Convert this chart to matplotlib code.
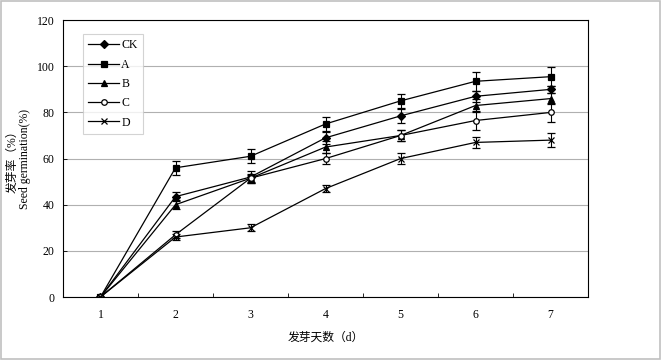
import matplotlib.pyplot as plt
import numpy as np

plt.rcParams['font.family'] = ['Liberation Serif', 'Noto Sans CJK SC']

days = [1, 2, 3, 4, 5, 6, 7]
ck = [0, 43.5, 52, 69, 78.5, 87, 90]
a = [0, 56, 61, 75, 85, 93.5, 95.5]
b = [0, 40, 51.5, 65, 70, 83, 86]
c = [0, 27, 51.5, 60, 70, 76.5, 80]
d = [0, 26, 30, 47, 60, 67, 68]

ck_err = [0, 2, 2.5, 2.5, 3, 2.5, 1.5]
a_err = [0, 3, 3, 3, 3, 4, 4]
b_err = [0, 2, 2, 2.5, 2.5, 3, 2.5]
c_err = [0, 1.5, 1.5, 2.5, 2.5, 4, 4]
d_err = [0, 1.5, 1.5, 1.5, 2.5, 2.5, 3]

fig = plt.figure(figsize=(6.61, 3.6), dpi=100)
ax = fig.add_axes([0.0953, 0.175, 0.7943, 0.769])

series = [
    ("CK", ck, ck_err, "D", "k", 3.8),
    ("A", a, a_err, "s", "k", 4.5),
    ("B", b, b_err, "^", "k", 4.5),
    ("C", c, c_err, "o", "white", 4),
    ("D", d, d_err, "x", "k", 5),
]
handles = []
for name, vals, err, mk, fc, ms in series:
    eb = ax.errorbar(days, vals, yerr=err, label=name, color="k", linewidth=0.9,
                     marker=mk, markersize=ms, markerfacecolor=fc,
                     markeredgecolor="k", markeredgewidth=0.9,
                     ecolor="k", elinewidth=0.8, capsize=3, capthick=0.8)
    handles.append(eb[0])

ax.set_xlim(0.5, 7.5)
ax.set_ylim(0, 120)
ax.set_yticks(np.arange(0, 121, 20))
ax.set_xticks(days)
ax.set_xticks(np.arange(1.5, 7.5, 1), minor=True)
ax.tick_params(axis="x", which="major", length=0, labelsize=8.5, pad=9)
ax.tick_params(axis="x", which="minor", direction="in", length=3, width=0.6)
ax.tick_params(axis="y", direction="in", length=3, width=0.6, labelsize=8.5, pad=6)
ax.yaxis.grid(True, color="#b0b0b0", linewidth=0.8)
ax.set_axisbelow(True)
for s in ax.spines.values():
    s.set_linewidth(0.8)

ax.set_xlabel("发芽天数（d）", fontsize=8.5, labelpad=7)
ax.set_ylabel("发芽率（%）\nSeed germination(%)", fontsize=8.5, labelpad=4,
              linespacing=1.05)

leg = ax.legend(handles=handles, labels=[s[0] for s in series],
                loc="upper left", bbox_to_anchor=(0.038, 0.95), fontsize=8.5,
                frameon=True, fancybox=False, edgecolor="#c8c8c8",
                handlelength=2.6, handletextpad=0.2, labelspacing=0.62,
                borderpad=0.45, borderaxespad=0)
leg.get_frame().set_linewidth(0.8)

fig.patches.append(plt.Rectangle((0.002, 0.003), 0.996, 0.994,
                                 transform=fig.transFigure, fill=False,
                                 edgecolor="#c0c0c0", linewidth=1.2))

fig.savefig("out.png", dpi=100)
